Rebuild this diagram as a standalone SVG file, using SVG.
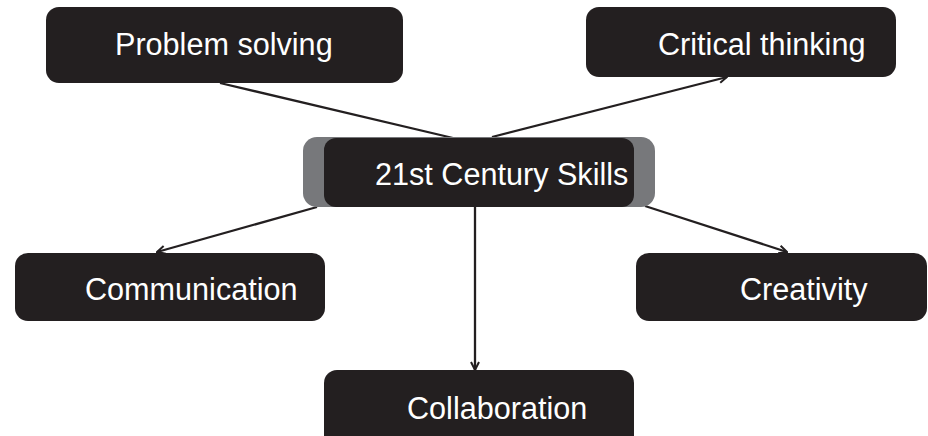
<svg xmlns="http://www.w3.org/2000/svg" width="928" height="436" viewBox="0 0 928 436">
<defs>
<style>
.box{fill:#231f20}
.halo{fill:#77787b}
.lbl{font-family:"Liberation Sans",Arial,sans-serif;font-size:30.6px;fill:#ffffff}
.edge{stroke:#231f20;stroke-width:2.3;fill:none}
</style>
<marker id="arr" viewBox="0 0 10 10" refX="9" refY="5" markerWidth="10" markerHeight="10" markerUnits="userSpaceOnUse" orient="auto">
<path d="M1,1 L9,5 L1,9" fill="none" stroke="#231f20" stroke-width="2"/>
</marker>
</defs>
<rect width="928" height="436" fill="#ffffff"/>
<g id="connectors">
<line class="edge" x1="453" y1="138" x2="220" y2="83"/>
<line class="edge" x1="492" y1="137" x2="727" y2="77" marker-end="url(#arr)"/>
<line class="edge" x1="317" y1="207" x2="157" y2="252" marker-end="url(#arr)"/>
<line class="edge" x1="645" y1="206" x2="787" y2="252" marker-end="url(#arr)"/>
<line class="edge" x1="475" y1="207" x2="475" y2="370" marker-end="url(#arr)"/>
</g>
<g id="problem-solving">
<rect class="box" x="46" y="7" width="357" height="76" rx="13"/>
<text class="lbl" x="115" y="55">Problem solving</text>
</g>
<g id="critical-thinking">
<rect class="box" x="586" y="7" width="310" height="70" rx="13"/>
<text class="lbl" x="658" y="55">Critical thinking</text>
</g>
<g id="center">
<rect class="halo" x="303" y="137" width="352" height="70" rx="14"/>
<rect class="box" x="324" y="138" width="310" height="69" rx="12"/>
<text class="lbl" x="375" y="185">21st Century Skills</text>
</g>
<g id="communication">
<rect class="box" x="15" y="253" width="310" height="68" rx="13"/>
<text class="lbl" x="85" y="300">Communication</text>
</g>
<g id="creativity">
<rect class="box" x="636" y="253" width="291" height="68" rx="13"/>
<text class="lbl" x="740" y="300">Creativity</text>
</g>
<g id="collaboration">
<rect class="box" x="324" y="370" width="310" height="80" rx="13"/>
<text class="lbl" x="407" y="419">Collaboration</text>
</g>
</svg>
